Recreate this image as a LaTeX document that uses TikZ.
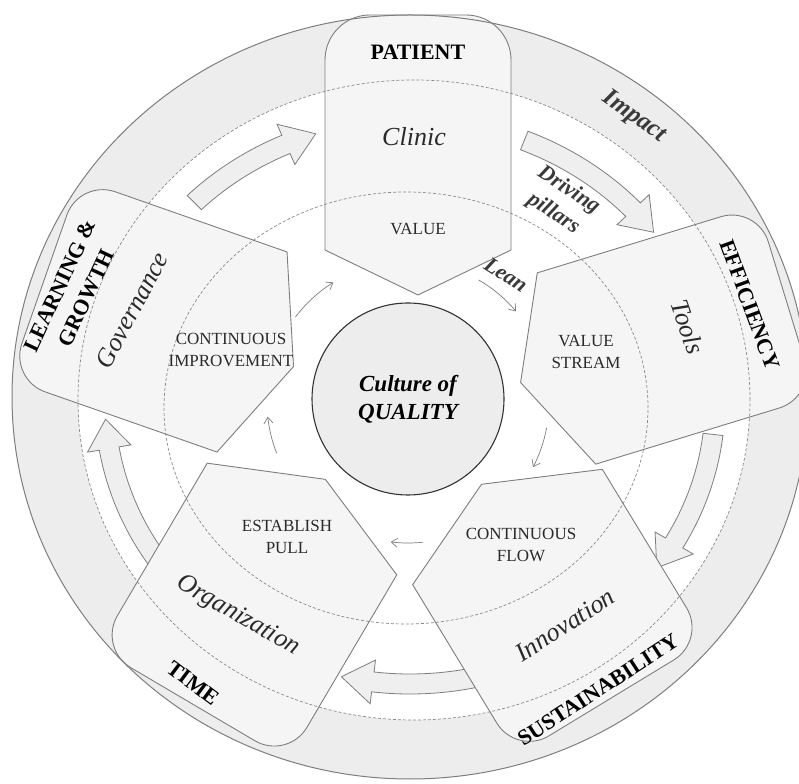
\documentclass[tikz,border=0pt]{standalone}
\usepackage{fontspec}
\setmainfont{Liberation Serif}
\usetikzlibrary{arrows.meta}
\definecolor{cRing}{HTML}{EDEDED}
\definecolor{cPillar}{HTML}{F5F5F5}
\definecolor{cLine}{HTML}{7E7E7E}
\definecolor{cDash}{HTML}{8A8A8A}
\definecolor{cArrow}{HTML}{EFEFEF}
\definecolor{cCore}{HTML}{EDEDED}
\definecolor{cText}{HTML}{2A2A2A}
\definecolor{cNote}{HTML}{3A3A3A}

% pillar: shoulder midpoint x,y ; rotation ; half width ; tip depth ; length ; corner radius ; style
\newcommand{\pillarshape}[8]{%
  \path[#8, shift={(#1,#2)}, rotate=#3]
    (0,-#5) -- (#4,0) -- (#4,{#6-#7})
    arc[start angle=0, end angle=90, radius=#7]
    -- ({-#4+#7},#6)
    arc[start angle=90, end angle=180, radius=#7]
    -- (-#4,0) -- cycle;}

% big hollow arrow on the ring: tail angle ; tip angle
\newcommand{\bigarrow}[2]{%
  \path[bigarr, shift={(410,381)}]
    (#1:315 and 292)
    arc[start angle=#1, end angle={#2+6}, x radius=315, y radius=292]
    -- ({#2+6}:327 and 304) -- (#2:305 and 282)
    -- ({#2+6}:283 and 260) -- ({#2+6}:295 and 272)
    arc[start angle={#2+6}, end angle=#1, x radius=295, y radius=272]
    -- cycle;}

% thin inner arrow: name ; start angle ; end angle
\newcommand{\leanarrow}[3]{%
  \coordinate (#1) at ([shift={(408,381)}]#2:141);
  \draw[smallarr] (#1) arc[start angle=#2, end angle=#3, radius=141];}

\begin{document}
\begin{tikzpicture}[x=1pt, y=1pt,
  bigarr/.style={fill=cArrow, draw=cLine, line width=0.8pt, line join=miter},
  smallarr/.style={draw=cLine, line width=0.7pt, -{Straight Barb[length=6pt, width=9pt]}},
  dashline/.style={draw=cDash, line width=0.7pt, dash pattern=on 3pt off 2pt},
  outerline/.style={draw=cLine, line width=1pt},
  pillarline/.style={draw=cLine, line width=0.9pt},
  capslbl/.style={font=\fontsize{17}{22}\selectfont, text=cText, align=center, inner sep=0pt},
  pillarname/.style={font=\bfseries\fontsize{22}{29}\selectfont, text=black, align=center, inner sep=0pt},
  pillaritem/.style={font=\itshape\fontsize{26}{30}\selectfont, text=cText, inner sep=0pt},
  note/.style={font=\bfseries\itshape\fontsize{22}{28}\selectfont, text=cNote, align=center, inner sep=0pt},
  core/.style={circle, draw=black!80, line width=1.1pt, fill=cCore, minimum size=192pt,
    align=center, inner sep=0pt, font=\bfseries\itshape\fontsize{23}{28}\selectfont}
]
\useasboundingbox (0,0) rectangle (799,783);

% grey ring and white inner field
\path[fill=cRing] (410,386) ellipse [x radius=398, y radius=382];
\path[fill=white] (414,383) ellipse [x radius=336, y radius=320];

% big cycle arrows
\bigarrow{135}{108}
\bigarrow{68}{37}
\bigarrow{-6.6}{-36}
\bigarrow{-78}{-103}
\bigarrow{215}{183.5}

% pillar fills
\pillarshape{418}{533}{0}{93}{45}{235}{45}{fill=cPillar}
\pillarshape{566.5}{414.5}{-73}{100}{48}{230}{38}{fill=cPillar}
\pillarshape{507.5}{256}{-148.7}{111}{50}{200}{38}{fill=cPillar}
\pillarshape{302}{264}{149.5}{110}{46}{215}{38}{fill=cPillar}
\pillarshape{252}{431}{70.7}{106}{44}{220}{38}{fill=cPillar}

% circles
\draw[dashline] (414,383) ellipse [x radius=336, y radius=320];
\draw[dashline] (406,375) ellipse [x radius=242, y radius=216];
\draw[outerline] (410,386) ellipse [x radius=398, y radius=382];

% pillar outlines
\pillarshape{418}{533}{0}{93}{45}{235}{45}{pillarline}
\pillarshape{566.5}{414.5}{-73}{100}{48}{230}{38}{pillarline}
\pillarshape{507.5}{256}{-148.7}{111}{50}{200}{38}{pillarline}
\pillarshape{302}{264}{149.5}{110}{46}{215}{38}{pillarline}
\pillarshape{252}{431}{70.7}{106}{44}{220}{38}{pillarline}

% core
\node[core] (culture) at (408,384) {Culture of\\QUALITY};

% thin inner arrows
\leanarrow{ciV}{143}{122}
\leanarrow{vVS}{60}{40}
\leanarrow{vsCF}{-10.5}{-27.5}
\leanarrow{cfEP}{-84}{-97}
\leanarrow{epCI}{-158.7}{-174}

% texts
\node[pillarname] (patient) at (418,731) {PATIENT};
\node[pillaritem] (clinic) at (414,646) {Clinic};
\node[capslbl] (value) at (418,554) {VALUE};

\node[note, font=\bfseries\itshape\fontsize{25}{30}\selectfont, rotate=-35] (impact) at (634,666) {Impact};
\node[note, rotate=-33] (driving) at (561,581) {Driving\\pillars};
\node[note, rotate=-33] (lean) at (506,508) {Lean};

\node[pillarname, rotate=-70] (efficiency) at (750,478) {EFFICIENCY};
\node[pillaritem, rotate=-71] (tools) at (688,456) {Tools};
\node[capslbl] (vstream) at (586,431) {VALUE\\STREAM};

\node[capslbl] (cflow) at (521,238) {CONTINUOUS\\FLOW};
\node[pillaritem, rotate=33] (innovation) at (565,158) {Innovation};
\node[pillarname, rotate=33] (sustain) at (598,93) {SUSTAINABILITY};

\node[capslbl] (epull) at (287,246) {ESTABLISH\\PULL};
\node[pillaritem, rotate=-30] (organization) at (238,167) {Organization};
\node[pillarname, rotate=-37] (time) at (193,100) {TIME};

\node[capslbl] (cimprove) at (231,433) {CONTINUOUS\\IMPROVEMENT};
\node[pillaritem, rotate=62] (governance) at (132,473) {Governance};
\node[pillarname, rotate=65] (learning) at (73,491) {LEARNING \&\\GROWTH};
\end{tikzpicture}
\end{document}
